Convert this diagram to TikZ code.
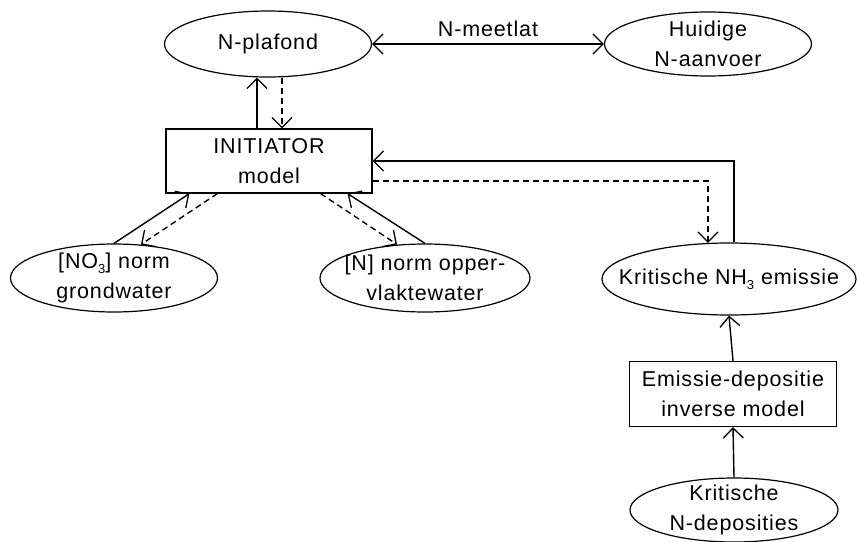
\documentclass[tikz,border=0pt]{standalone}
\usepackage{fontspec}
\setmainfont{Liberation Sans}[LetterSpace=4]
\usetikzlibrary{shapes.geometric,calc,arrows.meta}
\newcommand{\lowsub}[1]{\raisebox{-0.45ex}{\fontsize{13}{13}\selectfont #1}}
\begin{document}
\begin{tikzpicture}[x=1pt,y=-1pt,
  every node/.style={font=\fontsize{21.5}{30}\selectfont, align=center, inner sep=0pt},
  every label/.style={font=\fontsize{21.5}{30}\selectfont, align=center, inner sep=0pt},
  ell/.style={draw, ellipse, line width=1.2pt, label={center:#1}},
  boxnode/.style={draw, rectangle, line width=1.2pt},
  tip/.tip={Straight Barb[length=10pt,width=20pt,line width=1.3pt]},
  conn/.style={line width=1.4pt, -tip},
  dconn/.style={conn, dash pattern=on 6pt off 4pt},
]
\useasboundingbox (0,0) rectangle (857,541);
\node[ell={N-plafond}, minimum width=207pt, minimum height=66pt] (plaf) at (268,44) {};
\node[ell={Huidige\\N-aanvoer}, minimum width=207pt, minimum height=64pt] (huid) at (708,44) {};
\node[boxnode, minimum width=206pt, minimum height=64pt] (init) at (269,161) {INITIATOR\\model};
\node[ell={[NO\lowsub{3}] norm\\grondwater}, minimum width=207pt, minimum height=68pt] (no3) at (114,278) {};
\node[ell={[N] norm opper-\\vlaktewater}, minimum width=210pt, minimum height=68pt] (nnorm) at (425,278) {};
\node[ell={Kritische NH\lowsub{3} emissie}, minimum width=254pt, minimum height=72pt] (nh3) at (729,279) {};
\node[boxnode, minimum width=207pt, minimum height=65pt] (emis) at (733,394) {Emissie-depositie\\inverse model};
\node[ell={Kritische\\N-deposities}, minimum width=208pt, minimum height=64pt] (dep) at (734,510) {};
\node (meet) at (488,29) {N-meetlat};
% N-meetlat
\draw[conn, tip-tip] (plaf.east) -- (huid.west);
% INITIATOR <-> N-plafond
\draw[conn] ($(init.north)+(-12,0)$) -- ($(plaf.south)+(-11,0)$);
\draw[dconn] ($(plaf.south)+(14,0)$) -- ($(init.north)+(13,0)$);
% NO3
\draw[conn] (no3.north) -- ($(init.south west)+(24,0)$);
\draw[dconn] ($(init.south west)+(52,0)$) -- ($(no3.north)+(27,1)$);
% N norm
\draw[dconn] ($(init.south east)+(-52,0)$) -- ($(nnorm.north)+(-28,1)$);
\draw[conn] (nnorm.north) -- ($(init.south east)+(-25,0)$);
% NH3 loop
\draw[conn] ($(nh3.north)+(5,0)$) |- (init.east);
\draw[dconn] ($(init.east)+(0,20)$) -| ($(nh3.north)+(-21,0.5)$);
% lower chain
\draw[conn] (emis.north) -- (nh3.south);
\draw[conn] (dep.north) -- (emis.south);
\end{tikzpicture}
\end{document}
